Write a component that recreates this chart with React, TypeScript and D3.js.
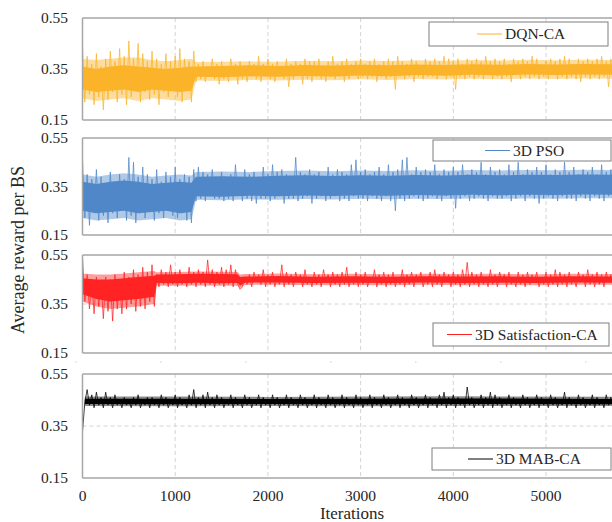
import React from "react";
import * as d3 from "d3";

const STEP = 25;
const xTicks = [0, 1000, 2000, 3000, 4000, 5000];
const gridTicks = [1000, 2000, 3000, 4000, 5000, 6000];
const yTicks = [0.15, 0.35, 0.55];

// sampled traces (one value every 25 iterations)
const dqnCA = [
  0.44,0.22,0.40,0.25,0.37,0.21,0.41,0.24,0.36,0.19,
  0.39,0.23,0.42,0.26,0.38,0.22,0.43,0.25,0.40,0.21,
  0.46,0.24,0.39,0.27,0.45,0.22,0.41,0.26,0.38,0.23,
  0.42,0.25,0.39,0.21,0.37,0.26,0.41,0.24,0.38,0.27,
  0.40,0.24,0.43,0.22,0.39,0.27,0.38,0.22,0.42,0.30,
  0.37,0.31,0.38,0.30,0.36,0.32,0.39,0.31,0.37,0.29,
  0.38,0.31,0.35,0.30,0.39,0.32,0.37,0.29,0.38,0.31,
  0.36,0.30,0.38,0.32,0.37,0.31,0.40,0.30,0.37,0.32,
  0.39,0.31,0.37,0.30,0.38,0.32,0.36,0.31,0.39,0.28,
  0.37,0.31,0.38,0.33,0.37,0.29,0.39,0.31,0.38,0.30,
  0.38,0.32,0.39,0.31,0.36,0.30,0.38,0.32,0.40,0.31,
  0.37,0.32,0.38,0.30,0.39,0.31,0.37,0.33,0.38,0.31,
  0.39,0.32,0.37,0.31,0.38,0.32,0.39,0.30,0.37,0.32,
  0.38,0.31,0.39,0.32,0.38,0.27,0.40,0.32,0.38,0.31,
  0.37,0.32,0.39,0.30,0.38,0.32,0.36,0.31,0.39,0.32,
  0.38,0.32,0.39,0.31,0.38,0.33,0.40,0.31,0.39,0.32,
  0.38,0.27,0.39,0.32,0.37,0.31,0.39,0.32,0.38,0.31,
  0.39,0.32,0.38,0.31,0.40,0.33,0.38,0.31,0.39,0.32,
  0.38,0.31,0.39,0.32,0.37,0.30,0.39,0.33,0.38,0.31,
  0.39,0.32,0.38,0.31,0.40,0.32,0.39,0.31,0.37,0.32,
  0.38,0.31,0.39,0.33,0.38,0.31,0.39,0.32,0.40,0.31,
  0.39,0.32,0.37,0.31,0.39,0.30,0.38,0.32,0.39,0.31,
  0.38,0.32,0.39,0.31,0.40,0.32,0.38,0.28,0.39,0.31,
];

const pso3D = [
  0.46,0.22,0.40,0.19,0.38,0.24,0.42,0.21,0.39,0.23,
  0.36,0.20,0.41,0.24,0.37,0.22,0.40,0.25,0.38,0.21,
  0.47,0.23,0.45,0.20,0.39,0.24,0.43,0.22,0.40,0.25,
  0.38,0.21,0.42,0.24,0.37,0.22,0.41,0.25,0.39,0.23,
  0.43,0.22,0.38,0.24,0.40,0.21,0.39,0.20,0.42,0.29,
  0.43,0.30,0.41,0.29,0.40,0.31,0.42,0.30,0.38,0.30,
  0.41,0.29,0.39,0.30,0.40,0.29,0.44,0.31,0.39,0.29,
  0.42,0.30,0.40,0.29,0.41,0.28,0.39,0.30,0.43,0.30,
  0.40,0.29,0.44,0.30,0.41,0.31,0.42,0.28,0.40,0.30,
  0.39,0.30,0.47,0.29,0.41,0.30,0.40,0.31,0.42,0.28,
  0.40,0.30,0.41,0.31,0.39,0.29,0.43,0.30,0.40,0.31,
  0.42,0.29,0.41,0.30,0.40,0.29,0.44,0.31,0.46,0.30,
  0.41,0.30,0.42,0.29,0.40,0.31,0.41,0.30,0.43,0.29,
  0.40,0.31,0.44,0.29,0.41,0.25,0.42,0.30,0.46,0.29,
  0.47,0.30,0.40,0.31,0.43,0.30,0.41,0.29,0.42,0.30,
  0.41,0.31,0.44,0.30,0.40,0.29,0.42,0.31,0.41,0.30,
  0.43,0.26,0.41,0.30,0.44,0.31,0.40,0.29,0.42,0.30,
  0.41,0.31,0.45,0.30,0.40,0.29,0.43,0.31,0.41,0.30,
  0.42,0.30,0.40,0.31,0.44,0.29,0.41,0.30,0.45,0.31,
  0.40,0.29,0.42,0.31,0.41,0.30,0.43,0.28,0.41,0.30,
  0.44,0.31,0.40,0.30,0.42,0.29,0.41,0.31,0.45,0.30,
  0.41,0.30,0.43,0.29,0.40,0.31,0.42,0.30,0.41,0.29,
  0.43,0.31,0.40,0.30,0.44,0.29,0.41,0.31,0.42,0.30,
];

const satisfactionCA = [
  0.54,0.36,0.47,0.33,0.45,0.31,0.46,0.34,0.44,0.29,
  0.46,0.32,0.45,0.28,0.47,0.33,0.44,0.31,0.48,0.33,
  0.46,0.35,0.49,0.32,0.47,0.34,0.50,0.33,0.48,0.36,
  0.51,0.34,0.47,0.42,0.49,0.43,0.48,0.42,0.51,0.43,
  0.48,0.42,0.49,0.43,0.47,0.42,0.50,0.43,0.48,0.42,
  0.49,0.43,0.48,0.42,0.53,0.43,0.49,0.42,0.48,0.43,
  0.50,0.42,0.49,0.43,0.51,0.42,0.49,0.43,0.41,0.42,
  0.46,0.43,0.47,0.42,0.48,0.44,0.47,0.43,0.49,0.42,
  0.47,0.43,0.48,0.42,0.46,0.43,0.51,0.42,0.48,0.43,
  0.47,0.42,0.48,0.44,0.47,0.42,0.49,0.43,0.46,0.42,
  0.48,0.43,0.47,0.42,0.49,0.44,0.47,0.42,0.48,0.43,
  0.47,0.42,0.48,0.43,0.50,0.42,0.46,0.43,0.48,0.42,
  0.47,0.43,0.48,0.42,0.46,0.44,0.49,0.42,0.47,0.43,
  0.48,0.42,0.47,0.43,0.48,0.42,0.46,0.43,0.49,0.42,
  0.47,0.43,0.48,0.42,0.47,0.44,0.48,0.42,0.46,0.43,
  0.48,0.42,0.49,0.43,0.47,0.42,0.48,0.44,0.47,0.42,
  0.48,0.43,0.47,0.42,0.49,0.43,0.52,0.42,0.48,0.43,
  0.47,0.42,0.48,0.43,0.46,0.42,0.49,0.43,0.47,0.42,
  0.48,0.44,0.47,0.42,0.48,0.43,0.46,0.42,0.48,0.43,
  0.47,0.42,0.48,0.43,0.47,0.44,0.48,0.42,0.46,0.43,
  0.48,0.42,0.47,0.43,0.49,0.42,0.48,0.43,0.47,0.42,
  0.48,0.43,0.46,0.42,0.48,0.44,0.47,0.42,0.49,0.43,
  0.47,0.42,0.48,0.43,0.47,0.42,0.48,0.44,0.47,0.42,
];

const mabCA = [
  0.33,0.44,0.49,0.43,0.47,0.42,0.48,0.43,0.46,0.42,
  0.48,0.43,0.46,0.42,0.47,0.43,0.45,0.42,0.46,0.43,
  0.45,0.42,0.46,0.43,0.47,0.42,0.45,0.43,0.46,0.42,
  0.46,0.43,0.45,0.42,0.47,0.43,0.46,0.42,0.45,0.43,
  0.47,0.42,0.46,0.43,0.45,0.42,0.47,0.43,0.49,0.42,
  0.46,0.43,0.47,0.42,0.48,0.43,0.46,0.42,0.47,0.43,
  0.46,0.42,0.45,0.43,0.47,0.42,0.46,0.43,0.45,0.42,
  0.47,0.43,0.46,0.42,0.45,0.43,0.47,0.42,0.46,0.43,
  0.45,0.42,0.47,0.43,0.46,0.42,0.45,0.43,0.47,0.42,
  0.46,0.43,0.45,0.42,0.47,0.43,0.46,0.42,0.45,0.43,
  0.47,0.42,0.46,0.43,0.45,0.42,0.47,0.43,0.46,0.42,
  0.45,0.43,0.47,0.42,0.46,0.43,0.45,0.42,0.47,0.43,
  0.46,0.42,0.45,0.43,0.47,0.42,0.46,0.43,0.45,0.42,
  0.47,0.43,0.46,0.42,0.45,0.43,0.47,0.42,0.46,0.43,
  0.45,0.42,0.47,0.43,0.46,0.42,0.45,0.43,0.47,0.42,
  0.46,0.43,0.45,0.42,0.47,0.43,0.48,0.42,0.46,0.43,
  0.47,0.42,0.46,0.43,0.45,0.42,0.50,0.43,0.46,0.42,
  0.45,0.43,0.47,0.42,0.46,0.43,0.48,0.42,0.47,0.43,
  0.46,0.42,0.45,0.43,0.47,0.42,0.46,0.43,0.45,0.42,
  0.47,0.43,0.46,0.42,0.45,0.43,0.47,0.42,0.46,0.43,
  0.45,0.42,0.47,0.43,0.46,0.42,0.45,0.43,0.48,0.42,
  0.46,0.43,0.45,0.42,0.47,0.43,0.46,0.42,0.45,0.43,
  0.47,0.42,0.46,0.43,0.45,0.42,0.47,0.43,0.46,0.42,
];

// dense core of each trace: [iteration, low, high]
const dqnCore = [
  [0,0.27,0.36],[150,0.26,0.35],[300,0.265,0.36],[450,0.27,0.365],[600,0.26,0.36],[750,0.27,0.355],
  [900,0.265,0.35],[1050,0.26,0.355],[1175,0.265,0.36],[1225,0.32,0.36],[1500,0.318,0.362],
  [1800,0.322,0.365],[2100,0.32,0.362],[2400,0.323,0.366],[2700,0.321,0.364],[3000,0.325,0.367],
  [3300,0.322,0.365],[3600,0.326,0.368],[3900,0.324,0.366],[4200,0.327,0.369],[4500,0.325,0.367],
  [4800,0.328,0.37],[5100,0.326,0.368],[5400,0.328,0.37],[5750,0.327,0.369],
];
const dqnSpread = [
  [0,0.235,0.39],[150,0.225,0.385],[300,0.23,0.39],[450,0.235,0.395],[600,0.225,0.395],[750,0.235,0.385],
  [900,0.23,0.38],[1050,0.225,0.385],[1175,0.23,0.39],[1225,0.305,0.377],[1500,0.303,0.378],
  [1800,0.307,0.38],[2100,0.305,0.378],[2400,0.308,0.382],[2700,0.306,0.38],[3000,0.31,0.383],
  [3300,0.307,0.381],[3600,0.311,0.384],[3900,0.309,0.382],[4200,0.312,0.385],[4500,0.31,0.383],
  [4800,0.313,0.386],[5100,0.311,0.384],[5400,0.313,0.386],[5750,0.312,0.385],
];
const psoCore = [
  [0,0.25,0.37],[150,0.24,0.36],[300,0.245,0.37],[450,0.25,0.375],[600,0.24,0.37],[750,0.245,0.36],
  [900,0.25,0.365],[1050,0.24,0.37],[1175,0.245,0.365],[1225,0.31,0.39],[1500,0.308,0.392],
  [1800,0.312,0.39],[2100,0.31,0.394],[2400,0.313,0.396],[2700,0.311,0.393],[3000,0.314,0.396],
  [3300,0.312,0.394],[3600,0.315,0.397],[3900,0.313,0.395],[4200,0.316,0.398],[4500,0.314,0.396],
  [4800,0.316,0.398],[5100,0.315,0.397],[5400,0.317,0.399],[5750,0.316,0.398],
];
const psoSpread = [
  [0,0.22,0.4],[150,0.21,0.39],[300,0.215,0.4],[450,0.22,0.405],[600,0.21,0.4],[750,0.215,0.39],
  [900,0.22,0.395],[1050,0.21,0.4],[1175,0.215,0.395],[1225,0.295,0.41],[1500,0.293,0.412],
  [1800,0.297,0.41],[2100,0.295,0.414],[2400,0.298,0.416],[2700,0.296,0.413],[3000,0.299,0.416],
  [3300,0.297,0.414],[3600,0.3,0.417],[3900,0.298,0.415],[4200,0.301,0.418],[4500,0.299,0.416],
  [4800,0.301,0.418],[5100,0.3,0.417],[5400,0.302,0.419],[5750,0.301,0.418],
];
const satisfactionCore = [
  [0,0.39,0.455],[150,0.37,0.45],[300,0.36,0.45],[450,0.365,0.455],[600,0.37,0.46],[775,0.38,0.465],
  [800,0.436,0.47],[1000,0.435,0.471],[1250,0.437,0.473],[1500,0.435,0.472],[1675,0.436,0.471],
  [1700,0.425,0.46],[1750,0.437,0.462],[2100,0.438,0.464],[2500,0.436,0.461],[2900,0.437,0.463],
  [3300,0.436,0.461],[3700,0.438,0.463],[4100,0.436,0.462],[4500,0.437,0.463],[4900,0.436,0.461],
  [5300,0.438,0.463],[5750,0.437,0.462],
];
const satisfactionSpread = [
  [0,0.36,0.475],[150,0.34,0.47],[300,0.33,0.47],[450,0.335,0.475],[600,0.34,0.48],[775,0.35,0.485],
  [800,0.425,0.48],[1000,0.424,0.481],[1250,0.426,0.483],[1500,0.424,0.482],[1675,0.425,0.481],
  [1700,0.415,0.47],[1750,0.428,0.472],[2100,0.429,0.474],[2500,0.427,0.471],[2900,0.428,0.473],
  [3300,0.427,0.471],[3700,0.429,0.473],[4100,0.427,0.472],[4500,0.428,0.473],[4900,0.427,0.471],
  [5300,0.429,0.473],[5750,0.428,0.472],
];
const mabCore = [
  [25,0.435,0.455],[1000,0.434,0.455],[2000,0.435,0.454],[3000,0.434,0.455],[4000,0.435,0.456],[5750,0.434,0.454],
];
const mabSpread = [
  [25,0.427,0.463],[1000,0.426,0.463],[2000,0.427,0.462],[3000,0.426,0.463],[4000,0.427,0.464],[5750,0.427,0.462],
];

const seriesNames = ["DQN-CA", "3D PSO", "3D Satisfaction-CA", "3D MAB-CA"];
const seriesValues = [dqnCA, pso3D, satisfactionCA, mabCA];
const seriesCores = [dqnCore, psoCore, satisfactionCore, mabCore];
const seriesSpreads = [dqnSpread, psoSpread, satisfactionSpread, mabSpread];
const seriesColors = ["#FBB42A", "#4F87C9", "#FF2323", "#000000"];

const FONT = "'Liberation Serif', 'Times New Roman', serif";

const panelLayout = [
  { top: 18, bottom: 120, box: [429, 22, 179, 24], lx: 477 },
  { top: 138, bottom: 235, box: [433, 140, 178, 21], lx: 485 },
  { top: 255, bottom: 353, box: [433, 323, 176, 23], lx: 447 },
  { top: 374, bottom: 478, box: [432, 448, 179, 22], lx: 468 },
];

const x = d3.scaleLinear().domain([0, 6000]).range([82.5, 638.7]);

export default function App() {
  const axisColor = "#A6A6A6";
  const gridColor = "#D4D4D4";
  return (
    <svg width={612} height={522} style={{ display: "block", position: "absolute", left: 0, top: 0 }}>
      <rect x={0} y={0} width={612} height={522} fill="#fff" />
      {panelLayout.map((p, i) => {
        const y = d3.scaleLinear().domain([0.15, 0.55]).range([p.bottom, p.top]);
        const line = d3
          .line<number>()
          .x((_, j) => x(j * STEP))
          .y((d) => y(d));
        const area = d3
          .area<number[]>()
          .x((d) => x(d[0]))
          .y0((d) => y(d[1]))
          .y1((d) => y(d[2]));
        const [bx, by, bw, bh] = p.box;
        const cy = by + bh / 2;
        return (
          <g key={i}>
            {gridTicks.map((t) => (
              <line key={t} x1={x(t)} x2={x(t)} y1={y(0.55)} y2={y(0.15)} stroke={gridColor} strokeWidth={1} strokeDasharray="4,3" />
            ))}
            <line x1={x(0)} x2={x(6000)} y1={y(0.35)} y2={y(0.35)} stroke={gridColor} strokeWidth={1} strokeDasharray="4,3" />
            <path d={area(seriesSpreads[i]) || ""} fill={seriesColors[i]} fillOpacity={0.45} stroke="none" />
            <path d={line(seriesValues[i]) || ""} fill="none" stroke={seriesColors[i]} strokeWidth={0.9} strokeOpacity={0.85} />
            <path d={area(seriesCores[i]) || ""} fill={seriesColors[i]} stroke="none" />
            <line x1={x(0)} x2={x(6000)} y1={y(0.55)} y2={y(0.55)} stroke={axisColor} strokeWidth={1.5} />
            <line x1={x(0)} x2={x(6000)} y1={y(0.15)} y2={y(0.15)} stroke={axisColor} strokeWidth={1.5} />
            <line x1={x(0)} x2={x(0)} y1={y(0.55)} y2={y(0.15)} stroke={axisColor} strokeWidth={1.5} />
            {yTicks.map((t) => (
              <text key={t} x={68} y={y(t) + 5} textAnchor="end" fontFamily={FONT} fontSize={15.5} fill="#262626">
                {t.toFixed(2)}
              </text>
            ))}
            <rect x={bx} y={by} width={bw} height={bh} fill="#fff" stroke="#7F7F7F" strokeWidth={1} />
            <line x1={p.lx} x2={p.lx + 25} y1={cy} y2={cy} stroke={seriesColors[i]} strokeWidth={1} />
            <text x={p.lx + 28} y={cy + 5} fontFamily={FONT} fontSize={15.5} fill="#262626">
              {seriesNames[i]}
            </text>
          </g>
        );
      })}
      {[75, 160, 245, 330, 415, 500, 585].map((d) => (
        <rect key={d} x={d} y={361.5} width={1.5} height={1} fill="#D0D0D0" />
      ))}
      {xTicks.map((t) => (
        <text key={t} x={x(t)} y={501} textAnchor="middle" fontFamily={FONT} fontSize={15.5} fill="#262626">
          {t}
        </text>
      ))}
      <text x={352} y={518.5} textAnchor="middle" fontFamily={FONT} fontSize={17} fill="#262626">
        Iterations
      </text>
      <text
        transform="translate(24,250) rotate(-90)"
        textAnchor="middle"
        fontFamily={FONT}
        fontSize={18}
        fill="#262626"
      >
        Average reward per BS
      </text>
    </svg>
  );
}
